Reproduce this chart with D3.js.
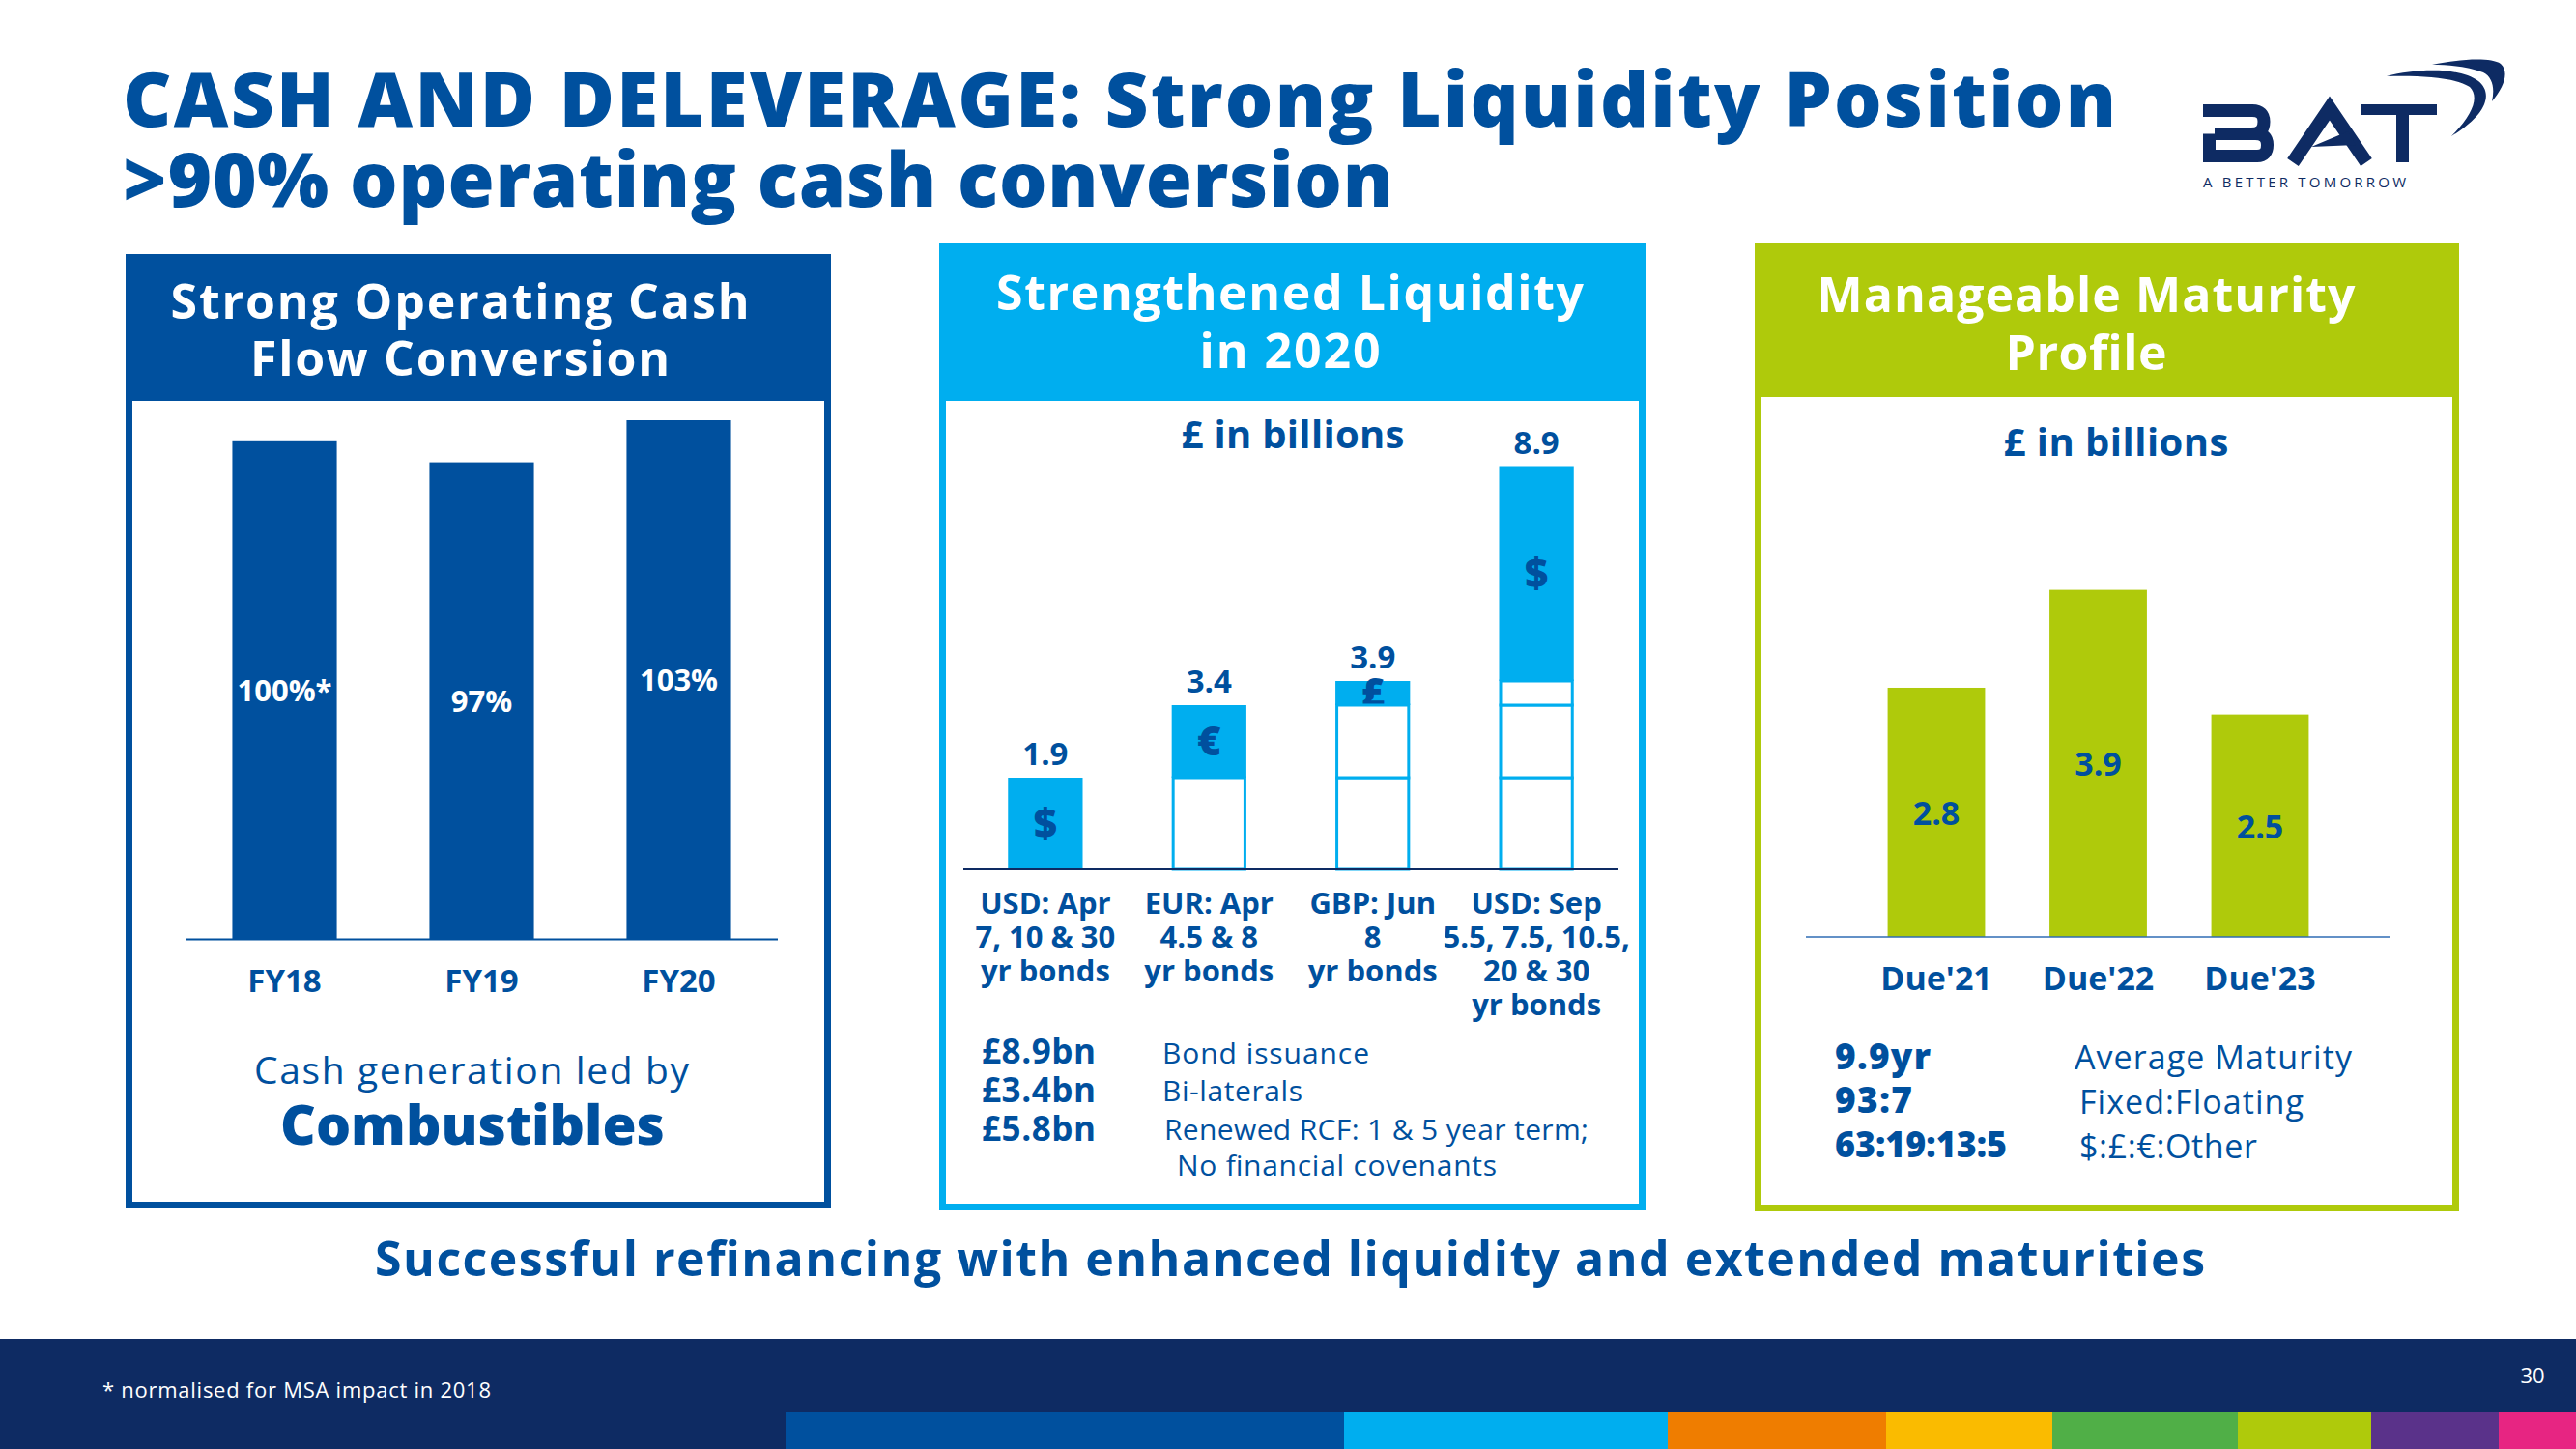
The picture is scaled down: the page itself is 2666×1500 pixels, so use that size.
<!DOCTYPE html>
<html><head><meta charset="utf-8">
<script src="https://cdn.jsdelivr.net/npm/d3@7"></script>
<style>
body{margin:0;background:#fff}
svg{display:block}
text{font-family:"Open Sans","DejaVu Sans",sans-serif}
</style>
</head><body>
<svg id="chart" width="2666" height="1500"></svg>
<script>
// ---------------- DATA ----------------
const titleLines = ["CASH AND DELEVERAGE: Strong Liquidity Position", ">90% operating cash conversion"];

const p1Title = ["Strong Operating Cash", "Flow Conversion"];
const p1Categories = ["FY18", "FY19", "FY20"];
const p1Values = [100, 97, 103];
const p1ValueLabels = ["100%*", "97%", "103%"];
const p1Caption = ["Cash generation led by", "Combustibles"];

const p2Title = ["Strengthened Liquidity", "in 2020"];
const p2Unit = "£ in billions";
const p2Categories = [
  ["USD: Apr", "7, 10 & 30", "yr bonds"],
  ["EUR: Apr", "4.5 & 8", "yr bonds"],
  ["GBP: Jun", "8", "yr bonds"],
  ["USD: Sep", "5.5, 7.5, 10.5,", "20 & 30", "yr bonds"]
];
// increments as drawn in the picture (the last bar is drawn shorter than its 8.9 label)
const p2Increments = [1.9, 1.5, 0.5, 4.45];
const p2TotalLabels = ["1.9", "3.4", "3.9", "8.9"];
const p2Currencies = ["$", "€", "£", "$"];
const p2Figures = ["£8.9bn", "£3.4bn", "£5.8bn"];
const p2Descriptions = ["Bond issuance", "Bi-laterals", "Renewed RCF: 1 & 5 year term;", "No financial covenants"];

const p3Title = ["Manageable Maturity", "Profile"];
const p3Unit = "£ in billions";
const p3Categories = ["Due'21", "Due'22", "Due'23"];
const p3Values = [2.8, 3.9, 2.5];
const p3Figures = ["9.9yr", "93:7", "63:19:13:5"];
const p3Descriptions = ["Average Maturity", "Fixed:Floating", "$:£:€:Other"];

const headline = "Successful refinancing with enhanced liquidity and extended maturities";
const footnote = "* normalised for MSA impact in 2018";
const pageNumber = "30";
const logoTagline = "A BETTER TOMORROW";

// ---------------- STYLE / LAYOUT ----------------
const C = {
  blue: "#00509E", navy: "#0E2B63", cyan: "#00AEEF", lime: "#AFCA0B",
  orange: "#EF7D00", yellow: "#FABB00", green: "#50AF47", purple: "#5A328A", pink: "#E72582"
};
const stripe = [
  {x0: 813, x1: 1391, c: C.blue}, {x0: 1391, x1: 1726, c: C.cyan}, {x0: 1726, x1: 1952, c: C.orange},
  {x0: 1952, x1: 2124, c: C.yellow}, {x0: 2124, x1: 2316, c: C.green}, {x0: 2316, x1: 2454, c: C.lime},
  {x0: 2454, x1: 2586, c: C.purple}, {x0: 2586, x1: 2666, c: C.pink}
];

const svg = d3.select("#chart");

function T(g, o) {
  const t = g.append("text")
    .attr("x", o.x).attr("y", o.y)
    .attr("font-size", o.size)
    .attr("font-weight", o.weight || 700)
    .attr("text-anchor", o.anchor || "start")
    .attr("fill", o.fill || C.blue)
    .text(o.text);
  if (o.ls) t.attr("letter-spacing", o.ls);
  if (o.width) {
    const w = t.node().getComputedTextLength();
    t.attr("textLength", o.width).attr("lengthAdjust", o.adjust || (w < o.width ? "spacing" : "spacingAndGlyphs"));
  }
  return t;
}

// ---------------- TITLE ----------------
T(svg, {x: 127, y: 131, text: titleLines[0], size: 78, weight: 800, width: 2063});
T(svg, {x: 127, y: 214, text: titleLines[1], size: 78, weight: 800, width: 1315});

// ---------------- LOGO (decoration) ----------------
const logo = svg.append("g").attr("fill", "none").attr("stroke", C.navy);
// B
logo.append("path").attr("stroke-width", 13)
  .attr("d", "M2280,114.5 H2331 Q2343,114.5 2343,126 Q2343,138.5 2330,138.5 H2292 M2286.5,138.5 V161.5 H2336 Q2346.5,161.5 2346.5,150 Q2346.5,138.5 2334,138.5");
// A
logo.append("path").attr("stroke-width", 14).attr("stroke-linejoin", "miter")
  .attr("d", "M2373,168 L2411,112 L2449,168");
logo.append("path").attr("fill", C.navy).attr("stroke", "none")
  .attr("d", "M2392,152 L2430,136 L2438,150 Z");
// T
logo.append("path").attr("stroke-width", 11).attr("d", "M2443,113.5 H2522");
logo.append("path").attr("stroke-width", 13).attr("d", "M2486.5,119 V168");
// swoosh
logo.append("path").attr("fill", C.navy).attr("stroke", "none")
  .attr("d", "M2517,67 C2545,61 2578,59 2588,66 C2597,74 2592,90 2579,105 C2582,92 2580,80 2570,75 C2555,69 2535,67 2517,67 Z");
logo.append("path").attr("fill", C.navy).attr("stroke", "none")
  .attr("d", "M2470,79 C2500,71 2545,69 2565,84 C2580,96 2575,118 2537,141 C2560,118 2566,100 2556,90 C2540,80 2505,78 2470,79 Z");
T(svg, {x: 2280, y: 194, text: logoTagline, size: 15, weight: 500, fill: C.navy, width: 210});

// ---------------- PANEL FRAMES ----------------
function panel(o) {
  const g = svg.append("g");
  g.append("rect").attr("x", o.x).attr("y", o.y).attr("width", o.w).attr("height", o.head - o.y).attr("fill", o.color);
  g.append("rect").attr("x", o.x + 3.5).attr("y", o.y + 3.5).attr("width", o.w - 7).attr("height", o.h - 7)
    .attr("fill", "none").attr("stroke", o.color).attr("stroke-width", 7);
  o.title.forEach((s, i) => T(g, {x: o.cx, y: o.titleY[i], text: s, size: 50, weight: 700, anchor: "middle", fill: "#fff", width: o.titleW[i]}));
  return g;
}

// ---------------- PANEL 1 ----------------
const g1 = panel({x: 130, y: 263, w: 730, h: 988, head: 415, color: C.blue, title: p1Title, cx: 476,
  titleY: [330, 389], titleW: [599, 434]});
const x1 = d3.scaleBand().domain(p1Categories).range([192, 805]).paddingInner(0.47).paddingOuter(0.2375);
const y1 = d3.scaleLinear().domain([29, 103]).range([972.6, 435]);
g1.selectAll("rect.bar").data(p1Values).join("rect").attr("class", "bar")
  .attr("x", (d, i) => x1(p1Categories[i])).attr("width", x1.bandwidth())
  .attr("y", d => y1(d)).attr("height", d => y1.range()[0] - y1(d)).attr("fill", C.blue);
g1.append("line").attr("x1", 192).attr("x2", 805).attr("y1", 972.6).attr("y2", 972.6).attr("stroke", C.blue).attr("stroke-width", 2);
p1Values.forEach((v, i) => {
  const cx = x1(p1Categories[i]) + x1.bandwidth() / 2;
  T(g1, {x: cx, y: (y1(v) + y1.range()[0]) / 2 + 11, text: p1ValueLabels[i], size: 31, anchor: "middle", fill: "#fff"});
  T(g1, {x: cx, y: 1027, text: p1Categories[i], size: 33, anchor: "middle"});
});
T(g1, {x: 488, y: 1122, text: p1Caption[0], size: 39, weight: 400, anchor: "middle", width: 450});
T(g1, {x: 489, y: 1185, text: p1Caption[1], size: 57, weight: 800, anchor: "middle", width: 398});

// ---------------- PANEL 2 ----------------
const g2 = panel({x: 972, y: 252, w: 731, h: 1001, head: 415, color: C.cyan, title: p2Title, cx: 1335,
  titleY: [321, 381], titleW: [608, 187]});
T(g2, {x: 1338, y: 464, text: p2Unit, size: 40, anchor: "middle", width: 231});
const x2 = d3.scaleBand().domain(d3.range(p2Increments.length)).range([997, 1675]).paddingInner(0.544).paddingOuter(0.273);
const y2 = d3.scaleLinear().domain([0, 10]).range([900, 400]);
const cum = d3.cumsum(p2Increments);
p2Increments.forEach((inc, i) => {
  const bx = x2(i), bw = x2.bandwidth(), cx = bx + bw / 2;
  const top = cum[i], bottom = i ? cum[i - 1] : 0;
  g2.append("rect").attr("x", bx).attr("width", bw).attr("y", y2(top)).attr("height", y2(bottom) - y2(top)).attr("fill", C.cyan);
  T(g2, {x: cx, y: (y2(top) + y2(bottom)) / 2 + 14, text: p2Currencies[i], size: 42, weight: 800, anchor: "middle", fill: C.blue});
  for (let j = 0; j < i; j++) {
    const s0 = j ? cum[j - 1] : 0, s1 = cum[j];
    g2.append("rect").attr("x", bx + 1.5).attr("width", bw - 3).attr("y", y2(s1)).attr("height", y2(s0) - y2(s1))
      .attr("fill", "#fff").attr("stroke", C.cyan).attr("stroke-width", 3);
  }
  T(g2, {x: cx, y: y2(top) - 13, text: p2TotalLabels[i], size: 33, anchor: "middle"});
  p2Categories[i].forEach((line, k) => T(g2, {x: cx, y: 945.5 + k * 35, text: line, size: 31, anchor: "middle"}));
});
g2.append("line").attr("x1", 997).attr("x2", 1675).attr("y1", 900).attr("y2", 900).attr("stroke", C.navy).attr("stroke-width", 2);
p2Figures.forEach((s, i) => T(g2, {x: 1016, y: 1101 + i * 40, text: s, size: 35, width: 118}));
T(g2, {x: 1203, y: 1101, text: p2Descriptions[0], size: 30, weight: 400, width: 214});
T(g2, {x: 1203, y: 1140, text: p2Descriptions[1], size: 30, weight: 400, width: 145});
T(g2, {x: 1205, y: 1180, text: p2Descriptions[2], size: 30, weight: 400, width: 439});
T(g2, {x: 1218, y: 1217, text: p2Descriptions[3], size: 30, weight: 400, width: 331});

// ---------------- PANEL 3 ----------------
const g3 = panel({x: 1816, y: 252, w: 729, h: 1002, head: 411, color: C.lime, title: p3Title, cx: 2159,
  titleY: [323, 383], titleW: [557, 167]});
T(g3, {x: 2190, y: 472, text: p3Unit, size: 40, anchor: "middle", width: 233});
const x3 = d3.scaleBand().domain(p3Categories).range([1869, 2474]).paddingInner(0.398).paddingOuter(0.505);
const y3 = d3.scaleLinear().domain([0, 4]).range([970, 601.4]);
g3.selectAll("rect.bar").data(p3Values).join("rect").attr("class", "bar")
  .attr("x", (d, i) => x3(p3Categories[i])).attr("width", x3.bandwidth())
  .attr("y", d => y3(d)).attr("height", d => y3.range()[0] - y3(d)).attr("fill", C.lime);
g3.append("line").attr("x1", 1869).attr("x2", 2474).attr("y1", 970).attr("y2", 970).attr("stroke", "#2F6DB5").attr("stroke-width", 1.5);
p3Values.forEach((v, i) => {
  const cx = x3(p3Categories[i]) + x3.bandwidth() / 2;
  T(g3, {x: cx, y: (y3(v) + y3.range()[0]) / 2 + 13, text: d3.format(".1f")(v), size: 34, anchor: "middle"});
  T(g3, {x: cx, y: 1025, text: p3Categories[i], size: 34, anchor: "middle"});
});
const p3Base = [1106.5, 1152, 1198];
p3Figures.forEach((s, i) => T(g3, {x: 1899, y: p3Base[i], text: s, size: 37, weight: 800, width: [99, 80, 178][i]}));
p3Descriptions.forEach((s, i) => T(g3, {x: [2147, 2152, 2152][i], y: p3Base[i] + 0.5, text: s, size: 34, weight: 400, width: [287, 232, 184][i]}));

// ---------------- HEADLINE & FOOTER ----------------
T(svg, {x: 1335, y: 1321, text: headline, size: 50, weight: 700, anchor: "middle", width: 1894});
svg.append("rect").attr("x", 0).attr("y", 1386).attr("width", 2666).attr("height", 114).attr("fill", C.navy);
svg.selectAll("rect.stripe").data(stripe).join("rect").attr("class", "stripe")
  .attr("x", d => d.x0).attr("width", d => d.x1 - d.x0).attr("y", 1462).attr("height", 38).attr("fill", d => d.c);
T(svg, {x: 106, y: 1447, text: footnote, size: 22, weight: 400, fill: "#fff", width: 402});
T(svg, {x: 2621, y: 1432, text: pageNumber, size: 22, weight: 400, fill: "#fff", anchor: "middle"});
</script>
</body></html>
